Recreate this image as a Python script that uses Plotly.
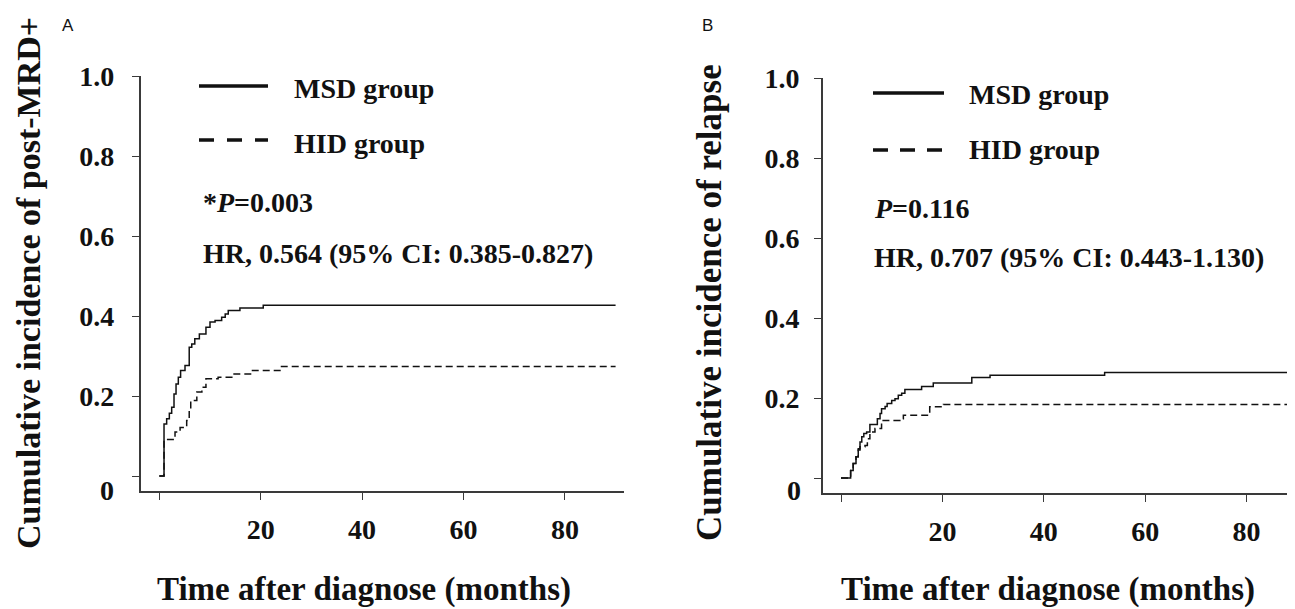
import plotly.graph_objects as go

W, H = 1295, 609
OFF = 8  # the page shows the figure 8 px in from the top-left corner

# ---------------- data ----------------
# Panel A: cumulative incidence of post-MRD+
a_msd_t = [0, 0.93, 1.45, 1.98, 2.44, 2.9, 3.3, 3.75, 4.2, 5.07, 5.9, 6.4, 7.0, 7.9, 9.2,
           10.0, 11.0, 12.3, 13.0, 13.6, 15.9, 20.5, 90]
a_msd_v = [0, 0.130, 0.143, 0.157, 0.172, 0.205, 0.230, 0.247, 0.264, 0.276, 0.322, 0.330,
           0.343, 0.355, 0.372, 0.385, 0.389, 0.397, 0.405, 0.414, 0.420, 0.427, 0.427]
a_hid_t = [0, 0.93, 3.1, 4.1, 5.4, 5.9, 6.2, 7.4, 8.4, 9.2, 11.6, 14.3, 18.2, 24.1, 90]
a_hid_v = [0, 0.091, 0.110, 0.121, 0.139, 0.164, 0.189, 0.210, 0.222, 0.243, 0.247, 0.255,
           0.264, 0.274, 0.274]

# Panel B: cumulative incidence of relapse
b_msd_t = [0, 1.9, 2.4, 2.96, 3.4, 3.75, 4.1, 4.5, 5.06, 5.7, 7.17, 7.7, 8.0, 8.7, 9.1, 10.0,
           10.65, 11.3, 11.97, 12.6, 15.9, 18.2, 25.8, 29.4, 52, 88]
b_msd_v = [0, 0.019, 0.036, 0.053, 0.073, 0.090, 0.103, 0.111, 0.115, 0.134, 0.148, 0.161,
           0.173, 0.179, 0.186, 0.194, 0.198, 0.207, 0.212, 0.221, 0.229, 0.2375, 0.251,
           0.257, 0.264, 0.264]
b_hid_t = [0, 1.9, 2.4, 2.96, 3.4, 3.75, 4.73, 5.2, 5.7, 6.7, 8.0, 11.6, 12.3, 17.5, 20.2, 88]
b_hid_v = [0, 0.019, 0.036, 0.053, 0.070, 0.078, 0.081, 0.098, 0.115, 0.124, 0.144, 0.148,
           0.157, 0.178, 0.184, 0.184]

x_tickvals = [0, 20, 40, 60, 80]
x_ticktext = ["", "20", "40", "60", "80"]
y_tickvals = [0, 0.2, 0.4, 0.6, 0.8, 1.0]
y_ticktext = ["", "0.2", "0.4", "0.6", "0.8", "1.0"]

series_names = ["MSD group", "HID group"]
panel_labels = ["A", "B"]
y_titles = ["Cumulative incidence of post-MRD+", "Cumulative incidence of relapse"]
x_title = "Time after diagnose (months)"
p_texts = ["*<i>P</i>=0.003", "<i>P</i>=0.116"]
hr_texts = ["HR, 0.564 (95% CI: 0.385-0.827)", "HR, 0.707 (95% CI: 0.443-1.130)"]

# ---------------- helpers ----------------
SERIF = "Liberation Serif, Times New Roman, serif"
INK = "#111111"
AXC = "#3a3a3a"


def px(x):
    return (x - OFF) / W


def py(y):
    return 1 - (y - OFF) / H


fig = go.Figure()

line_solid = dict(color=INK, width=1.5, shape="hv")
line_dash = dict(color=INK, width=1.5, shape="hv", dash="7px,4px")

fig.add_trace(go.Scatter(x=a_msd_t, y=a_msd_v, mode="lines", line=line_solid,
                         name=series_names[0], xaxis="x", yaxis="y", showlegend=False))
fig.add_trace(go.Scatter(x=a_hid_t, y=a_hid_v, mode="lines", line=line_dash,
                         name=series_names[1], xaxis="x", yaxis="y", showlegend=False))
fig.add_trace(go.Scatter(x=b_msd_t, y=b_msd_v, mode="lines", line=line_solid,
                         name=series_names[0], xaxis="x2", yaxis="y2", showlegend=False))
fig.add_trace(go.Scatter(x=b_hid_t, y=b_hid_v, mode="lines", line=line_dash,
                         name=series_names[1], xaxis="x2", yaxis="y2", showlegend=False))

tickfont = dict(family=SERIF, size=28, color=INK, weight="bold")

common_x = dict(showgrid=False, zeroline=False, showline=True, linecolor=AXC, linewidth=1.6,
                ticks="outside", ticklen=7, tickwidth=1.4, tickcolor=AXC,
                tickvals=x_tickvals, ticktext=x_ticktext, tickfont=tickfont,
                ticklabelstandoff=6, fixedrange=True, automargin=False)
common_y = dict(showgrid=False, zeroline=False, showline=True, linecolor=AXC, linewidth=1.6,
                ticks="outside", ticklen=7, tickwidth=1.4, tickcolor=AXC,
                tickvals=y_tickvals, ticktext=y_ticktext, tickfont=tickfont,
                range=[-0.0375, 1.0], fixedrange=True, automargin=False)

fig.update_layout(
    width=W, height=H,
    margin=dict(l=0, r=0, t=0, b=0, autoexpand=False),
    paper_bgcolor="white", plot_bgcolor="white",
    showlegend=False,
    xaxis=dict(common_x, domain=[px(140.7), px(624)], range=[-3.67, 91.66], anchor="y"),
    yaxis=dict(common_y, domain=[py(491), py(76)], anchor="x", ticklabelstandoff=12),
    xaxis2=dict(common_x, domain=[px(823), px(1295)], range=[-3.55, 89.55], anchor="y2"),
    yaxis2=dict(common_y, domain=[py(493), py(78)], anchor="x2", ticklabelstandoff=9),
)

annotations = []
shapes = []


def text(x, y, s, size=28, xanchor="left", angle=0, family=SERIF, weight="bold"):
    annotations.append(dict(
        x=px(x), y=py(y), xref="paper", yref="paper", text=s, showarrow=False,
        xanchor=xanchor, yanchor="middle", textangle=angle, borderpad=0,
        font=dict(family=family, size=size, color=INK, weight=weight)))


# panel letters
text(67.5, 26, panel_labels[0], size=17, xanchor="center",
     family="Liberation Sans, Arial, sans-serif", weight="normal")
text(707.5, 26, panel_labels[1], size=17, xanchor="center",
     family="Liberation Sans, Arial, sans-serif", weight="normal")

# "0" tick labels (drawn slightly below the 0 tick in the reference)
text(115, 490, "0", xanchor="right")
text(802, 490, "0", xanchor="right")

# axis titles
text(364, 589, x_title, size=33, xanchor="center")
text(1048, 589, x_title, size=33, xanchor="center")
text(28, 283, y_titles[0], size=34, xanchor="center", angle=-90)
text(709, 303, y_titles[1], size=35, xanchor="center", angle=-90)

# legends and statistics, panel A
text(293, 89, series_names[0])
text(293, 143, series_names[1])
text(201.7, 202, p_texts[0])
text(201.7, 253, hr_texts[0])
# panel B
text(968, 95, series_names[0])
text(968, 150, series_names[1])
text(873, 208, p_texts[1])
text(873, 257, hr_texts[1])


def legend_line(x0, x1, y, dash=None):
    ln = dict(color=INK, width=3.5)
    if dash:
        ln["dash"] = dash
    shapes.append(dict(type="line", xref="paper", yref="paper",
                       x0=px(x0), x1=px(x1), y0=py(y), y1=py(y), line=ln))


legend_line(199, 268, 86)
legend_line(199, 268, 140, dash="15px,13px")
legend_line(873, 944, 93)
legend_line(873, 944, 150, dash="15px,12px")

fig.update_layout(annotations=annotations, shapes=shapes)

fig.write_html("out.html")
